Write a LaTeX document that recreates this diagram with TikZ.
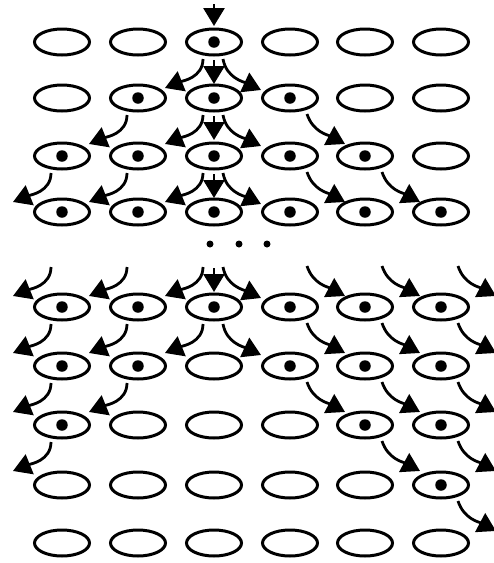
\documentclass[tikz,border=0pt]{standalone}
\usetikzlibrary{arrows.meta,calc,shapes.geometric}
\begin{document}
\begin{tikzpicture}[x=1pt,y=-1pt,
  cell/.style={draw, ellipse, line width=3pt, minimum width=55pt, minimum height=26pt, inner sep=0pt},
  mark dot/.style={circle, fill=black, minimum size=11.5pt, inner sep=0pt},
  small dot/.style={circle, fill=black, minimum size=7pt, inner sep=0pt},
  arr/.style={line width=2.8pt, -{Triangle[length=18pt,width=21pt]}}]
\useasboundingbox (0,0) rectangle (494,563);
% cells
\foreach \r/\y in {1/42,2/98,3/156,4/212,5/307,6/366,7/425,8/485,9/543}{
  \foreach \c/\x in {1/62,2/138,3/214,4/290,5/365,6/441}{
    \node[cell] (e\r\c) at (\x,\y) {};
  }
}
% virtual source row (continuation after the dots)
\foreach \c/\x in {1/62,2/138,3/214,4/290,5/365,6/441}{
  \coordinate (v\c) at (\x,250);
}
\coordinate (top) at (214,4);
% marked cells
\foreach \n in {13,22,23,24,31,32,33,34,35,41,42,43,44,45,46,51,52,53,54,55,56,61,62,64,65,66,71,75,76,86}{
  \node[mark dot] (d\n) at (e\n) {};
}
% ellipsis dots
\node[small dot] (p1) at (210,244) {};
\node[small dot] (p2) at (239,244) {};
\node[small dot] (p3) at (267,244) {};
% top arrow
\draw[arr] (top) -- ($(top)+(0,22)$);
% left arrows
\foreach \s in {e13,e22,e23,e31,e32,e33,v1,v2,v3,e51,e52,e53,e61,e62,e71}{
  \draw[arr] ($(\s)+(-11,17)$) to[out=-90,in=22] ($(\s)+(-49,46)$);
}
% down arrows
\foreach \s in {e13,e23,e33,v3}{
  \draw[arr] ($(\s)+(0,18)$) -- ($(\s)+(0,42)$);
}
% right arrows from the middle column
\foreach \s in {e13,e23,e33,v3,e53}{
  \draw[arr] ($(\s)+(9,17)$) to[out=-80,in=155] ($(\s)+(47,48)$);
}
% right arrows
\foreach \s in {e24,e34,e35,v4,v5,v6,e54,e55,e56,e64,e65,e66,e75,e76,e86}{
  \draw[arr] ($(\s)+(17,16)$) to[out=-72,in=152] ($(\s)+(55,46)$);
}
\end{tikzpicture}
\end{document}
